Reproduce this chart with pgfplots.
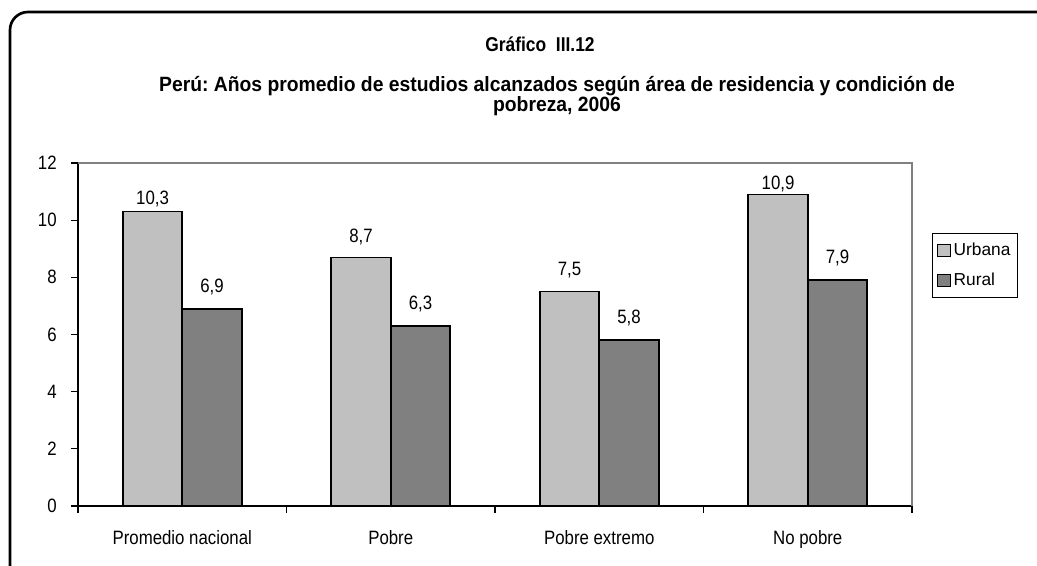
\documentclass[border=0pt]{standalone}
\usepackage{fontspec}
\setmainfont{Liberation Sans}[FakeStretch=0.87]
\newfontfamily\grafont{Liberation Sans}[FakeStretch=0.87]
\newfontfamily\titlefont{Liberation Sans}[FakeStretch=0.935]
\newfontfamily\legfont{Liberation Sans}
\usepackage{pgfplots}
\usepackage{pgfplotstable}
\pgfplotsset{compat=1.18}
\definecolor{urbana}{HTML}{C0C0C0}
\definecolor{rural}{HTML}{808080}
\frenchspacing

% x = category index, y = years, off = label shift (pt)
\pgfplotstableread{
x y off
0 10.3 -0.2
1 8.7 5.6
2 7.5 6.5
3 10.9 -1.7
}\urbanatab
\pgfplotstableread{
x y off
0 6.9 6.5
1 6.3 6.5
2 5.8 6.5
3 7.9 6.5
}\ruraltab

\begin{document}
\begin{tikzpicture}[x=0.75pt,y=-0.75pt]
\useasboundingbox (0,0) rectangle (1037,565);
% outer frame
\draw[line width=2pt] (10,566) -- (10,30) arc[start angle=180,end angle=270,radius=18] -- (1038,12);
% titles
\node[font=\grafont\bfseries\fontsize{15}{15}\selectfont] at (540,44) {Gráfico\ \ III.12};
\node[font=\titlefont\bfseries\fontsize{15.5}{15}\selectfont,align=center] at (557,96)
  {Perú: Años promedio de estudios alcanzados según área de residencia y condición de\\pobreza, 2006};
\coordinate (o) at (78,506);
\begin{axis}[
  at={(o)}, anchor=south west,
  scale only axis, width=625.5pt, height=257.25pt,
  xmin=-0.5, xmax=3.5, ymin=0, ymax=12,
  clip=false,
  axis x line*=bottom, axis y line*=left,
  axis line style={black,line width=0.8pt},
  ybar=0pt, bar width=44.6pt,
  tick align=outside,
  major tick length=5pt, minor tick length=5pt,
  ytick={0,2,...,12},
  every tick/.style={black,line width=0.8pt},
  xtick={0,1,2,3},
  xticklabels={Promedio nacional,Pobre,Pobre extremo,No pobre},
  major x tick style={draw=none},
  minor xtick={-0.5,0.5,1.5,2.5,3.5},
  x tick label style={yshift=-10pt},
  y tick label style={xshift=-7.5pt},
  tick label style={font=\fontsize{14.5}{17}\selectfont},
  /pgf/number format/assume math mode=true,
  visualization depends on=\thisrow{off}\as\labshift,
  nodes near coords={\pgfmathprintnumber[fixed,fixed zerofill,precision=1,use comma]{\pgfplotspointmeta}},
  every node near coord/.append style={font=\fontsize{14.5}{17}\selectfont,black,yshift=\labshift pt},
  legend style={at={(1.024,0.796)},anchor=north west,draw=black,line width=0.8pt,
    font=\legfont\fontsize{13}{15}\selectfont,row sep=8pt,inner xsep=3pt,inner ysep=5pt},
  legend cell align=left,
  after end axis/.code={
    \draw[gray,line width=1pt] (rel axis cs:0,1) -- (rel axis cs:1,1) -- (rel axis cs:1,0);
  },
]
\addplot[fill=urbana,draw=black,line width=1.2pt,
  legend image code/.code={\draw[fill=urbana,draw=black,line width=0.8pt] (0pt,-4.5pt) rectangle (10pt,4.5pt);}]
  table[x=x,y=y]{\urbanatab};
\addlegendentry{Urbana}
\addplot[fill=rural,draw=black,line width=1.2pt,
  legend image code/.code={\draw[fill=rural,draw=black,line width=0.8pt] (0pt,-4.5pt) rectangle (10pt,4.5pt);}]
  table[x=x,y=y]{\ruraltab};
\addlegendentry{Rural}
\end{axis}
\end{tikzpicture}
\end{document}
